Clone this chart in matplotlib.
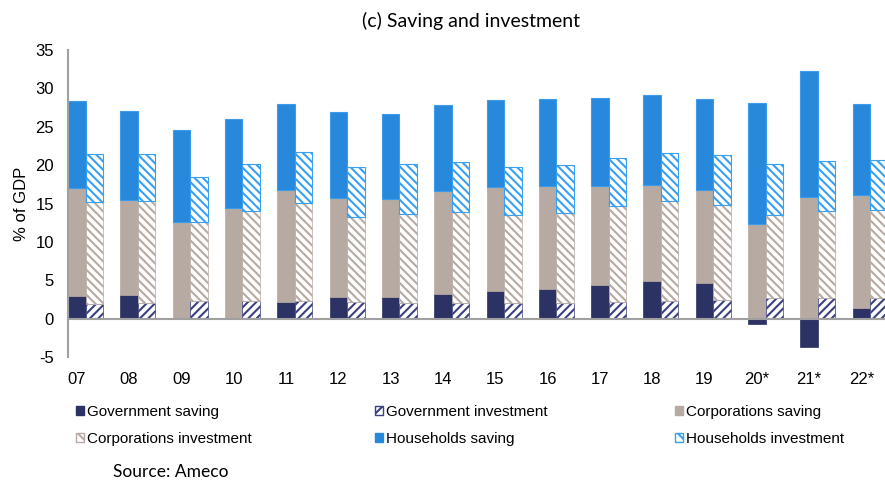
import numpy as np
import matplotlib
matplotlib.use("Agg")
import matplotlib.pyplot as plt
from matplotlib.patches import Patch

years = ["07", "08", "09", "10", "11", "12", "13", "14", "15", "16", "17", "18", "19", "20*", "21*", "22*"]

gov_saving = [3.0, 3.1, 0.13, 0.0, 2.17, 2.83, 2.83, 3.26, 3.6, 3.87, 4.4, 4.9, 4.65, -0.65, -3.7, 1.43]
corp_saving = [14.0, 12.3, 12.47, 14.4, 14.53, 12.93, 12.77, 13.34, 13.5, 13.43, 12.9, 12.5, 12.15, 12.3, 15.9, 14.72]
hh_saving = [11.35, 11.7, 12.0, 11.6, 11.2, 11.2, 11.05, 11.2, 11.4, 11.35, 11.5, 11.7, 11.85, 15.8, 16.35, 11.75]

gov_inv = [1.9, 2.0, 2.3, 2.3, 2.26, 2.13, 2.1, 2.04, 2.1, 2.1, 2.13, 2.26, 2.4, 2.65, 2.73, 2.7]
corp_inv = [13.3, 13.3, 10.25, 11.7, 12.84, 11.17, 11.5, 11.86, 11.45, 11.6, 12.57, 13.04, 12.4, 10.9, 11.27, 11.5]
hh_inv = [6.25, 6.15, 5.95, 6.1, 6.6, 6.4, 6.5, 6.5, 6.15, 6.3, 6.2, 6.3, 6.55, 6.65, 6.6, 6.5]

C_GOV = "#2d3264"
C_GOV_H = "#3b4080"
C_CORP = "#b6aaa2"
C_HH = "#2888dc"
C_HH_H = "#3aa0f2"

plt.rcParams["hatch.linewidth"] = 1.5
plt.rcParams["axes.unicode_minus"] = False
plt.rcParams["font.family"] = ["Liberation Sans", "DejaVu Sans"]

fig = plt.figure(figsize=(8.85, 4.8), dpi=100)
ax = fig.add_axes([68 / 885, 1 - 357 / 480, 1 - 68 / 885, (357 - 50) / 480])

x = np.arange(len(years))
w = 0.335
gs = np.array(gov_saving)
cs = np.array(corp_saving)
hs = np.array(hh_saving)
gi = np.array(gov_inv)
ci = np.array(corp_inv)
hi = np.array(hh_inv)

H_GOV = "////"
H_BACK = "\\\\\\\\"

pos_base = np.where(gs > 0, gs, 0)
ax.bar(x, gs, w, color=C_GOV, edgecolor=C_GOV, linewidth=0.5)
ax.bar(x, cs, w, bottom=pos_base, color=C_CORP, edgecolor=C_CORP, linewidth=0.5)
ax.bar(x, hs, w, bottom=pos_base + cs, color=C_HH, edgecolor="#3d9bea", linewidth=0.8)

xi = x + w
ax.bar(xi, gi, w, color="white", edgecolor=C_GOV_H, hatch=H_GOV, linewidth=0.5)
ax.bar(xi, ci, w, bottom=gi, color="white", edgecolor=C_CORP, hatch=H_BACK, linewidth=0.5)
ax.bar(xi, hi, w, bottom=gi + ci, color="white", edgecolor=C_HH_H, hatch=H_BACK, linewidth=0.8)

ax.set_xlim(-w / 2, 15.45)
ax.set_ylim(-5, 35)
ax.set_yticks(np.arange(-5, 36, 5))
ax.set_xticks(x)
ax.set_xticklabels(years)
ax.tick_params(axis="both", length=0, labelsize=12, colors="black")
ax.tick_params(axis="x", pad=11)
ax.tick_params(axis="y", pad=10)
for s in ["top", "right", "bottom"]:
    ax.spines[s].set_visible(False)
ax.spines["left"].set_color("#a0a0a0")
ax.spines["left"].set_linewidth(1.5)
ax.axhline(0, color="#a0a0a0", linewidth=1.5, zorder=3)
ax.set_ylabel("% of GDP", fontsize=12, labelpad=5)

fig.text(0.532, 1 - 21 / 480, "(c) Saving and investment", ha="center", va="center",
         fontsize=14, family=["Lato", "DejaVu Sans"])
fig.text(113 / 885, 1 - 472 / 480, "Source: Ameco", ha="left", va="center",
         fontsize=12.5, family=["Lato", "DejaVu Sans"])

handles = {
    "Government saving": Patch(facecolor=C_GOV, edgecolor=C_GOV),
    "Government investment": Patch(facecolor="white", edgecolor=C_GOV_H, hatch="///"),
    "Corporations saving": Patch(facecolor=C_CORP, edgecolor=C_CORP),
    "Corporations investment": Patch(facecolor="white", edgecolor=C_CORP, hatch="\\\\\\"),
    "Households saving": Patch(facecolor=C_HH, edgecolor=C_HH),
    "Households investment": Patch(facecolor="white", edgecolor=C_HH_H, hatch="\\\\\\"),
}
cols = [["Government saving", "Corporations investment"],
        ["Government investment", "Households saving"],
        ["Corporations saving", "Households investment"]]
col_x = [76, 375, 675]
for cx, names in zip(col_x, cols):
    leg = fig.legend([handles[n] for n in names], names, loc="upper left",
                     bbox_to_anchor=(cx / 885, 1 - 405 / 480), frameon=False,
                     fontsize=11, handlelength=0.55, handleheight=0.55,
                     handletextpad=0.2, labelspacing=0.86, borderpad=0, borderaxespad=0)

fig.savefig("out.png", dpi=100)
